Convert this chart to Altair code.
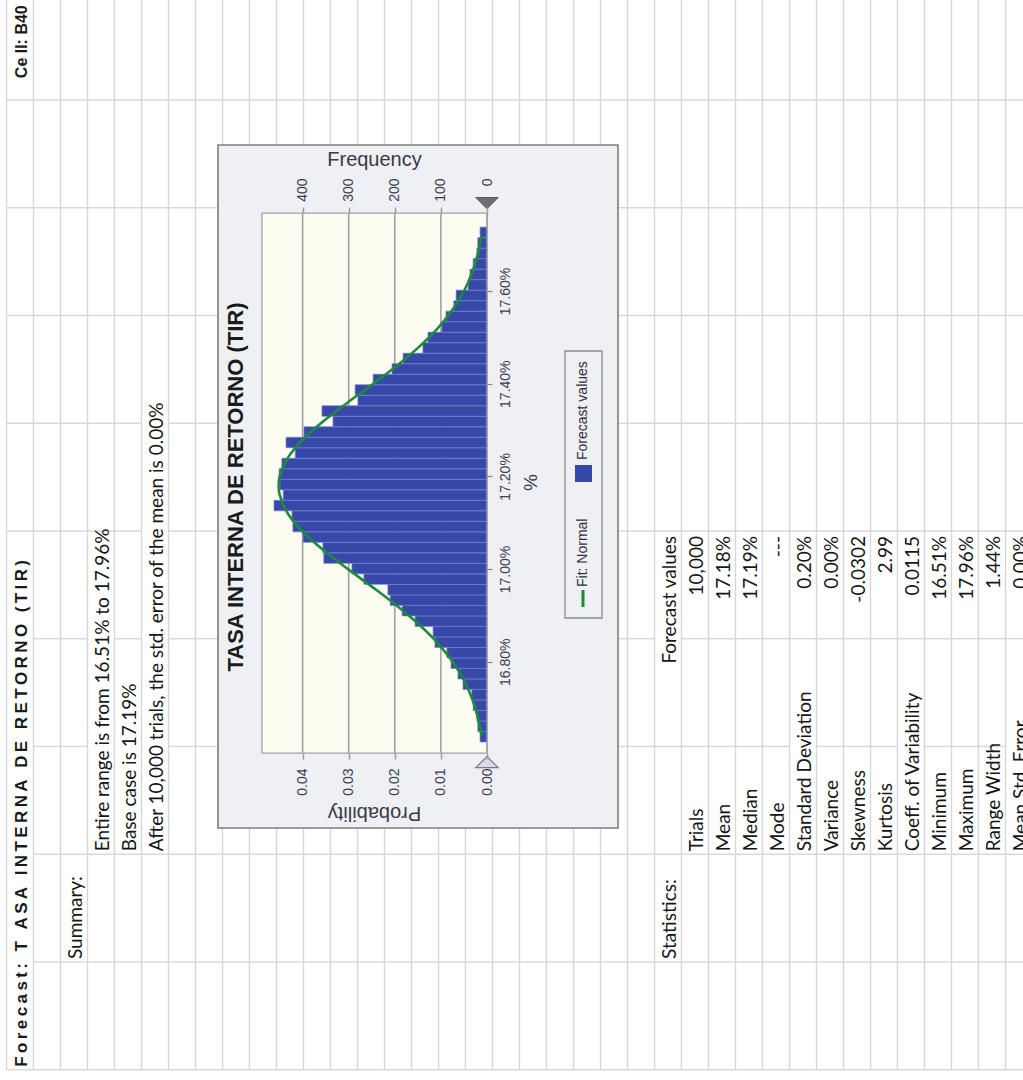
import altair as alt
import pandas as pd

# ---------------------------------------------------------------- sheet text
forecast_title = "Forecast: T ASA INTERNA DE RETORNO (TIR)"
cell_ref = "Ce ll: B40"
summary_header = "Summary:"
summary_lines = [
    "Entire range is from 16.51% to 17.96%",
    "Base case is 17.19%",
    "After 10,000 trials, the std. error of the mean is 0.00%",
]
stats_header = "Statistics:"
stats_column_header = "Forecast values"
stat_names = ["Trials", "Mean", "Median", "Mode", "Standard Deviation", "Variance",
              "Skewness", "Kurtosis", "Coeff. of Variability", "Minimum", "Maximum",
              "Range Width", "Mean Std. Error"]
stat_values = ["10,000", "17.18%", "17.19%", "---", "0.20%", "0.00%", "-0.0302",
               "2.99", "0.0115", "16.51%", "17.96%", "1.44%", "0.00%"]

# ---------------------------------------------------------------- histogram
chart_title = "TASA INTERNA DE RETORNO (TIR)"
trials = 10000
bin_start = 16.627      # lower edge of the first bin (%)
bin_width = 0.02267     # bin width (%)
bin_counts = [15, 20, 22, 30, 33, 52, 63, 78, 87, 113, 117, 156, 184, 210, 215, 267,
              293, 354, 356, 399, 421, 423, 462, 442, 449, 451, 445, 416, 436, 397,
              334, 358, 280, 286, 247, 206, 182, 139, 128, 98, 89, 72, 67, 41, 37,
              30, 22, 20, 15]
fit_pct = [16.64, 16.68, 16.72, 16.76, 16.80, 16.84, 16.88, 16.92, 16.96, 17.00,
           17.04, 17.08, 17.12, 17.16, 17.18, 17.20, 17.24, 17.28, 17.32, 17.36,
           17.40, 17.44, 17.48, 17.52, 17.56, 17.60, 17.64, 17.68, 17.72]
fit_prob = [0.00118, 0.00199, 0.00321, 0.00498, 0.00744, 0.01065, 0.01468, 0.01942,
            0.02468, 0.03015, 0.03538, 0.03989, 0.04321, 0.04497, 0.04520, 0.04497,
            0.04321, 0.03989, 0.03538, 0.03015, 0.02468, 0.01942, 0.01468, 0.01065,
            0.00744, 0.00498, 0.00321, 0.00199, 0.00118]
pct_ticks = [16.8, 17.0, 17.2, 17.4, 17.6]
prob_ticks = [0.0, 0.01, 0.02, 0.03, 0.04]
freq_ticks = [0, 100, 200, 300, 400]
legend_labels = ["Fit: Normal", "Forecast values"]

# ---------------------------------------------------------------- page layout
W, H = 1023, 1080
ROW_ORIGIN, ROW_STEP = 6.5, 27.0       # sheet rows run left -> right
COL_ORIGIN, COL_STEP = 100.0, 107.75   # sheet columns run top -> bottom
N_ROWS, LAST_COL = 38, 9

ZERO_PX, PX_PER_PROB = 487.0, 4610.0   # probability axis (grows leftwards)
PCT_REF, PCT_REF_PX, PX_PER_PCT = 17.6, 291.0, 463.5
PLOT_PROB_MAX = 0.0488
PLOT_PCT_MIN, PLOT_PCT_MAX = 16.603, 17.768

GRID = "#d6d6d6"
SHEET_FONT = "Lato"
CHART_FONT = "Liberation Sans"
LABEL_C = "#3d3d52"
AXIS_GREY = "#9c9c9c"


def row_scale():
    return alt.Scale(domain=[-ROW_ORIGIN / ROW_STEP, (W - ROW_ORIGIN) / ROW_STEP],
                     nice=False, zero=False)


def col_scale():
    return alt.Scale(domain=[-COL_ORIGIN / COL_STEP, (H - COL_ORIGIN) / COL_STEP],
                     nice=False, zero=False, reverse=True)


def prob_scale(mult=1.0):
    return alt.Scale(domain=[(ZERO_PX - W) / PX_PER_PROB * mult, ZERO_PX / PX_PER_PROB * mult],
                     nice=False, zero=False, reverse=True)


def pct_scale():
    return alt.Scale(domain=[PCT_REF - (H - PCT_REF_PX) / PX_PER_PCT,
                             PCT_REF + PCT_REF_PX / PX_PER_PCT],
                     nice=False, zero=False)


one = pd.DataFrame({"k": [0]})
layers = []

# ---------------------------------------------------------------- sheet grid
col_top = -COL_ORIGIN / COL_STEP
vgrid = pd.DataFrame({"row": list(range(N_ROWS)), "top": col_top, "bottom": LAST_COL})
layers.append(
    alt.Chart(vgrid).mark_rule(color=GRID, strokeWidth=1.4).encode(
        x=alt.X("row:Q", scale=row_scale(), axis=None),
        y=alt.Y("top:Q", scale=col_scale(), axis=None),
        y2="bottom:Q",
    )
)

# column borders hidden behind text that spills into neighbouring cells
hidden = {(0, 5), (0, 6), (0, 7), (0, 8), (3, 5), (3, 6), (4, 6),
          (5, 3), (5, 4), (5, 5), (5, 6), (24, 5), (29, 6), (33, 6), (37, 6)}
segs = [{"r0": r, "r1": r + 1, "col": j}
        for r in range(N_ROWS) for j in range(LAST_COL + 1) if (r, j) not in hidden]
layers.append(
    alt.Chart(pd.DataFrame(segs)).mark_rule(color=GRID, strokeWidth=1.4).encode(
        x=alt.X("r0:Q", scale=row_scale(), axis=None),
        x2="r1:Q",
        y=alt.Y("col:Q", scale=col_scale(), axis=None),
    )
)

# ---------------------------------------------------------------- sheet text
left_items = [(summary_header, 2, 8)]
left_items += [(t, 3 + i, 7) for i, t in enumerate(summary_lines)]
left_items += [(stats_header, 24, 8)]
left_items += [(t, 25 + i, 7) for i, t in enumerate(stat_names)]
left_df = pd.DataFrame(left_items, columns=["label", "row", "col"])
left_df["edge"] = left_df["row"] + 1

right_items = [(stats_column_header, 24, 4)] + [(v, 25 + i, 4) for i, v in enumerate(stat_values)]
right_df = pd.DataFrame(right_items, columns=["label", "row", "col"])
right_df["edge"] = right_df["row"] + 1


def sheet_text(df, align, dx, **kw):
    return alt.Chart(df).mark_text(angle=270, align=align, baseline="alphabetic",
                                   dx=dx, **kw).encode(
        x=alt.X("edge:Q", scale=row_scale(), axis=None),
        y=alt.Y("col:Q", scale=col_scale(), axis=None),
        text="label:N",
    )


layers.append(sheet_text(left_df, "left", 3, dy=-6, font=SHEET_FONT, fontSize=19, color="#161616"))
layers.append(sheet_text(right_df, "right", -5, dy=-6, font=SHEET_FONT, fontSize=19, color="#161616"))

title_df = pd.DataFrame({"label": ["\u2009".join(forecast_title)], "edge": [1], "col": [LAST_COL]})
layers.append(sheet_text(title_df, "left", 3, dy=-7, font=CHART_FONT, fontSize=17,
                         fontWeight="bold", color="#1a1a1a"))
cell_df = pd.DataFrame({"label": [cell_ref], "edge": [1], "col": [-1]})
layers.append(sheet_text(cell_df, "right", -13, dy=-7, font=CHART_FONT, fontSize=16,
                         fontWeight="bold", color="#1a1a1a"))

# ---------------------------------------------------------------- chart panel
layers.append(
    alt.Chart(one).mark_rect(fill="#eef0f4", stroke="#7d7d7d", strokeWidth=1.6).encode(
        x=alt.value(218), x2=alt.value(618), y=alt.value(145), y2=alt.value(828)
    )
)

plot_df = pd.DataFrame({"p0": [0.0], "p1": [PLOT_PROB_MAX], "v0": [PLOT_PCT_MIN], "v1": [PLOT_PCT_MAX]})
layers.append(
    alt.Chart(plot_df).mark_rect(fill="#fcfcf1").encode(
        x=alt.X("p0:Q", scale=prob_scale(), axis=None), x2="p1:Q",
        y=alt.Y("v0:Q", scale=pct_scale(), axis=None), y2="v1:Q",
    )
)

# frequency gridlines + frequency axis on top
grid_df = pd.DataFrame({"f": freq_ticks, "v0": PLOT_PCT_MIN, "v1": PLOT_PCT_MAX})
freq_axis = alt.Axis(
    orient="top", offset=-213, values=freq_ticks, format="d", grid=False, domain=False,
    ticks=True, tickSize=6, tickColor=AXIS_GREY, tickWidth=1.5,
    labelAngle=270, labelAlign="right", labelBaseline="middle", labelPadding=29,
    labelFont=CHART_FONT, labelFontSize=14, labelColor=LABEL_C,
    labelFlush=False, labelOverlap=False, labelBound=False,
    title="Frequency", titleAngle=0, titleX=374, titleY=-48, titleAlign="center",
    titleBaseline="alphabetic", titleFont=CHART_FONT, titleFontSize=20,
    titleFontWeight="normal", titleColor="#3a3a48", zindex=1,
)
layers.append(
    alt.Chart(grid_df).mark_rule(color=AXIS_GREY, strokeWidth=1.5).encode(
        x=alt.X("f:Q", scale=prob_scale(trials), axis=freq_axis),
        y=alt.Y("v0:Q", scale=pct_scale(), axis=None), y2="v1:Q",
    )
)

# histogram bars with probability axis (bottom) and % axis (right)
bars = pd.DataFrame({
    "lo": [bin_start + i * bin_width for i in range(len(bin_counts))],
    "hi": [bin_start + (i + 1) * bin_width for i in range(len(bin_counts))],
    "prob": [c / trials for c in bin_counts],
    "base": 0.0,
})
prob_axis = alt.Axis(
    orient="bottom", offset=-(H - 753), values=prob_ticks, format=".2f", grid=False,
    domain=False, ticks=True, tickSize=6, tickColor=AXIS_GREY, tickWidth=1.5,
    labelAngle=270, labelAlign="right", labelBaseline="middle", labelPadding=9,
    labelFont=CHART_FONT, labelFontSize=14, labelColor=LABEL_C,
    labelFlush=False, labelOverlap=False, labelBound=False,
    title="Probability", titleAngle=180, titleX=374, titleY=53, titleAlign="center",
    titleBaseline="alphabetic", titleFont=CHART_FONT, titleFontSize=20,
    titleFontWeight="normal", titleColor="#3a3a48", zindex=1,
)
pct_axis = alt.Axis(
    orient="right", offset=-(W - ZERO_PX), values=pct_ticks,
    labelExpr="format(datum.value, '.2f') + '%'", grid=False, domain=False,
    ticks=True, tickSize=5, tickColor="#8a8a8a", tickWidth=1.2,
    labelAngle=270, labelAlign="center", labelBaseline="middle", labelPadding=13,
    labelFont=CHART_FONT, labelFontSize=14, labelColor=LABEL_C,
    labelFlush=False, labelOverlap=False, labelBound=False,
    title="%", titleAngle=270, titleX=43, titleY=482, titleAlign="center",
    titleBaseline="middle", titleFont=CHART_FONT, titleFontSize=19,
    titleFontWeight="normal", titleColor="#3a3a48", zindex=1,
)
layers.append(
    alt.Chart(bars).mark_rect(fill="#3848a8", stroke="#7282cc", strokeWidth=0.7).encode(
        x=alt.X("prob:Q", scale=prob_scale(), axis=prob_axis), x2="base:Q",
        y=alt.Y("lo:Q", scale=pct_scale(), axis=pct_axis), y2="hi:Q",
    )
)

# fitted normal curve
fit_df = pd.DataFrame({"pct": fit_pct, "prob": fit_prob})
layers.append(
    alt.Chart(fit_df).mark_line(color="#1e8b3c", strokeWidth=2.6, interpolate="catmull-rom").encode(
        x=alt.X("prob:Q", scale=prob_scale(), axis=None),
        y=alt.Y("pct:Q", scale=pct_scale(), axis=None),
        order="pct:Q",
    )
)

# plot frame
layers.append(
    alt.Chart(plot_df).mark_rect(fillOpacity=0, stroke="#a2a2a2", strokeWidth=1.3).encode(
        x=alt.X("p0:Q", scale=prob_scale(), axis=None), x2="p1:Q",
        y=alt.Y("v0:Q", scale=pct_scale(), axis=None), y2="v1:Q",
    )
)

# certainty grabbers at both ends of the % axis
grab_df = pd.DataFrame({"p": [0.0], "top": [PLOT_PCT_MAX], "bot": [PLOT_PCT_MIN]})
layers.append(
    alt.Chart(grab_df).mark_point(shape="M-1,-0.5L1,-0.5L0,0.5Z", size=500, filled=True,
                                  fill="#6f6f6f", stroke="#5a5a5a", strokeWidth=1,
                                  opacity=1, yOffset=-10).encode(
        x=alt.X("p:Q", scale=prob_scale(), axis=None),
        y=alt.Y("top:Q", scale=pct_scale(), axis=None),
    )
)
layers.append(
    alt.Chart(grab_df).mark_point(shape="M-1,0.5L1,0.5L0,-0.5Z", size=500, filled=True,
                                  fill="#d9d9ee", stroke="#7a7a7a", strokeWidth=1.2,
                                  opacity=1, yOffset=9).encode(
        x=alt.X("p:Q", scale=prob_scale(), axis=None),
        y=alt.Y("bot:Q", scale=pct_scale(), axis=None),
    )
)

# chart title
layers.append(
    alt.Chart(one).mark_text(text=chart_title, angle=270, align="center", baseline="middle",
                             font=CHART_FONT, fontSize=22, fontWeight="bold",
                             color="#1b1b1b").encode(x=alt.value(236), y=alt.value(487))
)

# legend
layers.append(
    alt.Chart(one).mark_rect(fill="#eef0f4", stroke="#8a8a8a", strokeWidth=1.3).encode(
        x=alt.value(565), x2=alt.value(602), y=alt.value(351), y2=alt.value(618)
    )
)
layers.append(
    alt.Chart(one).mark_rule(color="#1e8b3c", strokeWidth=3).encode(
        x=alt.value(583), y=alt.value(590), y2=alt.value(607)
    )
)
layers.append(
    alt.Chart(one).mark_rect(fill="#3848a8").encode(
        x=alt.value(575), x2=alt.value(592), y=alt.value(465), y2=alt.value(482)
    )
)
layers.append(
    alt.Chart(one).mark_text(text=legend_labels[0], angle=270, align="left", baseline="middle",
                             font=CHART_FONT, fontSize=14, color="#2f2f40").encode(
        x=alt.value(583), y=alt.value(587))
)
layers.append(
    alt.Chart(one).mark_text(text=legend_labels[1], angle=270, align="left", baseline="middle",
                             font=CHART_FONT, fontSize=14, color="#2f2f40").encode(
        x=alt.value(583), y=alt.value(460))
)

chart = (
    alt.layer(*layers)
    .resolve_scale(x="independent", y="independent")
    .properties(width=W, height=H, autosize=alt.AutoSizeParams(type="none"), padding=0,
                background="white")
    .configure_view(stroke=None)
)

chart.save("out.html", embed_options={"renderer": "svg", "actions": False})
